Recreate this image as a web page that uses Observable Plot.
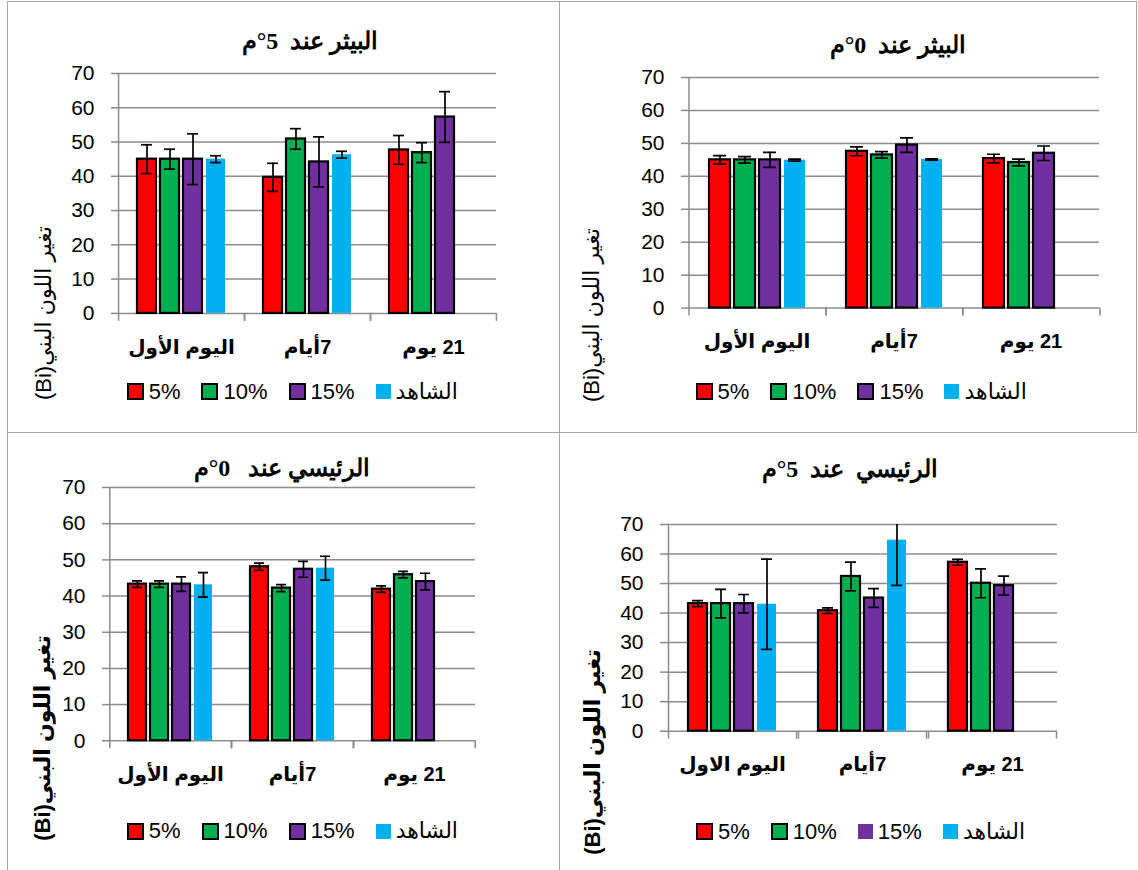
<!DOCTYPE html>
<html><head><meta charset="utf-8">
<script src="https://cdn.jsdelivr.net/npm/d3@7"></script>
<script src="https://cdn.jsdelivr.net/npm/@observablehq/plot@0.6"></script>
<style>
html,body{margin:0;padding:0;background:#fff;}
#root{position:relative;width:1138px;height:870px;overflow:hidden;background:#fff;}
.abs{position:absolute;}
.title{font-family:"Liberation Serif","DejaVu Serif",serif;font-weight:bold;font-size:24px;text-align:center;white-space:pre;line-height:30px;height:30px;width:400px;}
.ytitle{font-family:"Liberation Sans","DejaVu Sans",sans-serif;font-size:22px;white-space:pre;line-height:26px;height:26px;width:260px;text-align:center;transform:rotate(-90deg);transform-origin:50% 50%;}
.legend{display:flex;align-items:center;font-family:"Liberation Sans","DejaVu Sans",sans-serif;font-size:22px;height:26px;line-height:26px;white-space:nowrap;}
.item{display:flex;align-items:center;margin-right:21px;}
.sw{display:inline-block;box-sizing:border-box;width:17px;height:17px;margin-right:5px;}
.hl{position:absolute;background:#a6a6a6;}
</style></head><body><div id="root"></div>
<script>
// ---------- shared data ----------
const series = ["5%", "10%", "15%", "الشاهد"];
const control = "الشاهد";
const colors = ["#FF0000", "#00B050", "#7030A0", "#00B0F0"];
const yTicks = [0, 10, 20, 30, 40, 50, 60, 70];
const daysA = ["اليوم الأول", "7أيام", "21 يوم"];
const daysB = ["اليوم الاول", "7أيام", "21 يوم"];
const yTitle = "تغير اللون البني(Bi)";

// ---------- panel 1: البيثر عند 5°م ----------
const title1 = "البيثر عند  5°م";
const values1 = [[45.0, 39.7, 47.7], [45.0, 50.9, 46.9], [45.0, 44.2, 57.3], [45.0, 46.3, null]];
const errors1 = [[4.2, 4.1, 4.2], [2.9, 3.0, 2.9], [7.4, 7.3, 7.4], [1.0, 1.0, null]];

// ---------- panel 2: البيثر عند 0°م ----------
const title2 = "البيثر عند  0°م";
const values2 = [[45.0, 47.6, 45.4], [45.0, 46.5, 44.2], [45.0, 49.5, 47.0], [44.9, 45.1, null]];
const errors2 = [[1.3, 1.35, 1.3], [1.0, 1.0, 1.0], [2.3, 2.2, 2.2], [0.3, 0.2, null]];

// ---------- panel 3: الرئيسي عند 0°م ----------
const title3 = "الرئيسي عند   0°م";
const values3 = [[43.3, 48.1, 41.9], [43.3, 42.2, 45.9], [43.3, 47.4, 44.0], [43.1, 47.7, null]];
const errors3 = [[0.9, 1.0, 0.9], [0.9, 0.95, 0.9], [2.0, 2.2, 2.3], [3.4, 3.3, null]];

// ---------- panel 4: الرئيسي عند 5°م ----------
const title4 = "الرئيسي  عند  5°م";
const values4 = [[43.2, 40.8, 57.2], [43.2, 52.4, 50.1], [43.2, 45.1, 49.3], [43.0, 64.7, null]];
const errors4 = [[1.0, 0.95, 1.0], [4.8, 4.85, 4.9], [3.1, 3.15, 3.2], [15.3, 15.3, null]];

const GRID = "#8c8c8c";
const PI = 0.17, PO = 0.82;
const root = document.getElementById("root");

function addLine(l, t, w, h) {
  const d = document.createElement("div");
  d.className = "hl";
  Object.assign(d.style, {left: l + "px", top: t + "px", width: w + "px", height: h + "px"});
  root.appendChild(d);
}
addLine(7, 1, 1130, 1);
addLine(7, 1, 1, 869);
addLine(559, 1, 1, 869);
addLine(1136, 1, 1, 432);
addLine(7, 432, 1130, 1);

function panel(cfg) {
  const {values, errors, days, L, R, T, B, title, titleX, titleY, yx, yy, ybold, legX, legY, noBorder} = cfg;
  const mL = 60, mR = 20, mT = 20, mB = 60;
  const width = (R - L) + mL + mR, height = (B - T) + mT + mB;
  const rows = [];
  series.forEach((s, j) => days.forEach((d, i) => {
    const v = values[j][i];
    if (v == null) return;
    rows.push({day: d, series: s, value: v, lo: v - errors[j][i], hi: v + errors[j][i]});
  }));
  const Wf = (R - L) / days.length;
  const step = Wf / (series.length - PI + 2 * PO);
  const bw = step * (1 - PI);
  const edge = PO * step + bw / 2;
  const yMax = yTicks[yTicks.length - 1];
  const bounds = days.map((d, i) => ({day: d, top: i === 0 ? yMax : 0}));

  const chart = Plot.plot({
    width, height, marginLeft: mL, marginRight: mR, marginTop: mT, marginBottom: mB,
    style: {fontFamily: "Liberation Sans, DejaVu Sans, sans-serif", fontSize: "20px", color: "#000", background: "transparent", overflow: "visible"},
    fx: {domain: days, padding: 0, axis: null, label: null},
    x: {domain: series, paddingInner: PI, paddingOuter: PO, axis: null, label: null},
    y: {domain: [0, yMax], axis: null, label: null},
    color: {domain: series, range: colors},
    marks: [
      Plot.gridY(yTicks, {stroke: GRID, strokeOpacity: 1, strokeWidth: 1.5}),
      Plot.axisY(yTicks, {tickSize: 7, tickPadding: 17, stroke: GRID, strokeWidth: 1.5, strokeOpacity: 1, fill: "#000", fontSize: 21, label: null}),
      Plot.ruleX(bounds, {fx: "day", x: () => series[0], y1: "top", y2: 0, dx: -edge, insetBottom: -8, stroke: GRID, strokeWidth: 1.5}),
      Plot.ruleX(bounds, {fx: "day", x: () => series[series.length - 1], y1: 0, y2: 0, dx: edge, insetBottom: -8, stroke: GRID, strokeWidth: 1.5}),
      Plot.barY(rows.filter(r => r.series === control), {fx: "day", x: "series", y: "value", fill: "series"}),
      Plot.barY(rows.filter(r => r.series !== control), {fx: "day", x: "series", y: "value", fill: "series", stroke: "#000", strokeWidth: 2.2}),
      Plot.ruleX(rows, {fx: "day", x: "series", y1: "lo", y2: "hi", stroke: "#000", strokeWidth: 1.7, clip: true}),
      Plot.tickY(rows, {fx: "day", x: "series", y: "hi", stroke: "#000", strokeWidth: 1.7, insetLeft: 4, insetRight: 4, clip: true}),
      Plot.tickY(rows, {fx: "day", x: "series", y: "lo", stroke: "#000", strokeWidth: 1.7, insetLeft: 4, insetRight: 4, clip: true}),
      Plot.axisFx({anchor: "bottom", tickSize: 0, tickPadding: 26, fontSize: 20, fontWeight: "bold", fill: "#000", label: null, tickFormat: d => "\u200F" + d})
    ]
  });
  const wrap = document.createElement("div");
  wrap.className = "abs";
  wrap.style.left = (L - mL) + "px";
  wrap.style.top = (T - mT) + "px";
  wrap.appendChild(chart);
  root.appendChild(wrap);

  const t = document.createElement("div");
  t.className = "abs title";
  t.dir = "rtl";
  t.textContent = title;
  t.style.left = (titleX - 200) + "px";
  t.style.top = (titleY - 15) + "px";
  root.appendChild(t);

  const yt = document.createElement("div");
  yt.className = "abs ytitle";
  yt.dir = "rtl";
  yt.textContent = yTitle;
  yt.style.left = (yx - 130) + "px";
  yt.style.top = (yy - 13) + "px";
  if (ybold) yt.style.fontWeight = "bold";
  root.appendChild(yt);

  const lg = document.createElement("div");
  lg.className = "abs legend";
  lg.style.left = legX + "px";
  lg.style.top = (legY - 13) + "px";
  series.forEach((s, j) => {
    const it = document.createElement("span");
    it.className = "item";
    const sw = document.createElement("span");
    sw.className = "sw";
    sw.style.background = colors[j];
    if (s === control || noBorder.includes(s)) { sw.style.width = "15px"; sw.style.height = "15px"; }
    else sw.style.border = "2px solid #000";
    const tx = document.createElement("span");
    tx.textContent = s;
    if (s === control) tx.dir = "rtl";
    it.appendChild(sw); it.appendChild(tx);
    lg.appendChild(it);
  });
  root.appendChild(lg);
}

panel({values: values1, errors: errors1, days: daysA, L: 117.5, R: 495.5, T: 72.7, B: 312.6,
  title: title1, titleX: 310, titleY: 41, yx: 44, yy: 313, ybold: false, legX: 126.7, legY: 391.5, noBorder: []});
panel({values: values2, errors: errors2, days: daysA, L: 687, R: 1099, T: 76.7, B: 307.3,
  title: title2, titleX: 898, titleY: 45, yx: 592, yy: 315, ybold: false, legX: 695.6, legY: 391.5, noBorder: []});
panel({values: values3, errors: errors3, days: daysA, L: 108, R: 476, T: 486.7, B: 740,
  title: title3, titleX: 282, titleY: 468, yx: 43, yy: 738, ybold: true, legX: 126.8, legY: 831, noBorder: []});
panel({values: values4, errors: errors4, days: daysB, L: 665.8, R: 1057.6, T: 524, B: 730.7,
  title: title4, titleX: 850, titleY: 469, yx: 593, yy: 752, ybold: true, legX: 696, legY: 831.5, noBorder: ["15%"]});
</script></body></html>
